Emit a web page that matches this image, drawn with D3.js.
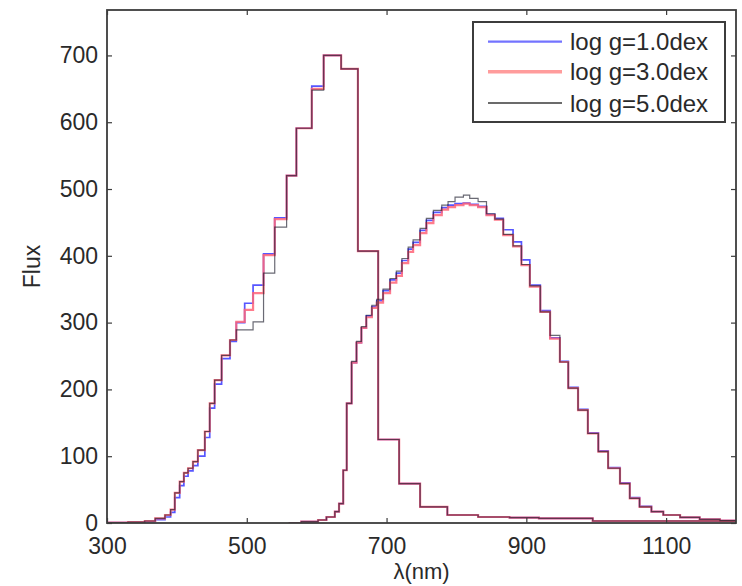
<!DOCTYPE html>
<html>
<head>
<meta charset="utf-8">
<script src="https://cdn.jsdelivr.net/npm/d3@7/dist/d3.min.js"></script>
<style>
  html, body { margin: 0; padding: 0; background: #fff; }
  svg { display: block; }
  text { font-family: "Liberation Sans", Arial, Helvetica, sans-serif; fill: #2a2a2a; }
</style>
</head>
<body>
<svg id="chart" width="742" height="586"></svg>
<script>
// ---- Data ----
const xTicks = [300, 500, 700, 900, 1100];
const yTicks = [0, 100, 200, 300, 400, 500, 600, 700];
const seriesNames = ["log g=1.0dex", "log g=3.0dex", "log g=5.0dex"];

// Filter A: bin edges (nm) and flux per bin
const edgesA = [300, 330, 354, 369, 383, 391, 397, 404, 410, 416, 423, 430, 440, 447, 454, 464, 476, 485, 497, 509, 524, 540, 557, 571, 593, 610, 635, 659, 688, 718, 748, 787, 831, 876, 918, 995, 1200];
const blueA  = [0.5, 1, 2, 5, 9, 16, 38, 56, 70, 78, 86, 100, 128, 172, 208, 246, 272, 300, 329, 356, 403, 457, 520, 591, 654, 700, 680, 407, 125, 59, 24, 12, 9, 8, 7, 3];
const redA   = [0.5, 1.5, 3, 7, 12, 20, 45, 62, 75, 82, 92, 109, 137, 179, 214, 251, 274, 301, 319, 344, 401, 455, 520, 591, 650, 700, 680, 407, 125, 59, 24, 12, 9, 8, 7, 3];
const blackA = [0.5, 1.5, 3, 7, 12, 20, 45, 62, 75, 82, 92, 109, 137, 179, 214, 251, 274, 289, 289, 301, 374, 443, 520, 591, 648, 700, 680, 407, 125, 59, 24, 12, 9, 8, 7, 3];

// Filter B: bin edges (nm) and flux per bin
const edgesB = [560, 578, 602, 614, 626, 632, 638, 643, 650, 657, 664, 671, 679, 686, 695, 705, 714, 722, 731, 738, 748, 757, 767, 779, 788, 798, 810, 819, 831, 843, 855, 867, 881, 893, 905, 920, 934, 948, 960, 974, 988, 1003, 1017, 1034, 1048, 1062, 1079, 1096, 1120, 1148, 1177, 1200];
const blueB  = [0, 2, 4.5, 9, 17, 29, 79, 179, 240, 270, 292, 310, 324, 333, 348, 364, 374, 393, 410, 420, 438, 453, 465, 472, 476, 478, 479, 477, 474, 462, 456, 439, 421, 394, 356, 318, 277, 242, 203, 170, 135, 108, 83, 60, 38, 25, 17, 12, 8.5, 5.5, 3.5];
const redB   = [0, 2, 4.5, 9, 17, 29, 79, 179, 240, 270, 292, 308, 322, 330, 344, 360, 370, 389, 406, 416, 434, 449, 461, 469, 473, 476, 478, 476, 473, 461, 454, 431, 414, 386, 354, 316, 276, 241, 202, 169, 134, 107, 82, 59, 37, 24, 17, 12, 8.5, 5.5, 3.5];
const blackB = [0, 2, 4.5, 9, 17, 29, 79, 179, 242, 272, 294, 311, 326, 335, 350, 366, 377, 396, 413, 424, 441, 456, 468, 476, 481, 488, 491, 486, 481, 463, 455, 432, 415, 387, 355, 316, 281, 241, 202, 169, 134, 107, 82, 59, 37, 24, 17, 12, 8.5, 5.5, 3.5];

// ---- Layout ----
const W = 742, H = 586;
const L = 107, R = 736, T = 10, B = 523;

const svg = d3.select("#chart");
const x = d3.scaleLinear().domain([300, 1200]).range([L, R]);
const y = d3.scaleLinear().domain([0, 768]).range([B, T]);

const styles = [
  { color: "#4d4dff", width: 1.7, opacity: 0.95, legColor: "#7373ff", legWidth: 2.2 },
  { color: "#ff6478", width: 2.2, opacity: 0.85, legColor: "#ff9c9c", legWidth: 3.6 },
  { color: "#1a1a2a", width: 1.2, opacity: 0.65, legColor: "#3a3a3a", legWidth: 1.4 }
];

function stepPoints(edges, vals) {
  const pts = vals.map((v, i) => [edges[i], v]);
  pts.push([edges[edges.length - 1], vals[vals.length - 1]]);
  return pts;
}

const line = d3.line()
  .x(d => x(d[0]))
  .y(d => y(d[1]))
  .curve(d3.curveStepAfter);

svg.append("defs").append("clipPath").attr("id", "clip")
  .append("rect").attr("x", L).attr("y", T).attr("width", R - L).attr("height", B - T);

const plot = svg.append("g").attr("clip-path", "url(#clip)");
const seriesData = [
  [blueA, blueB],
  [redA, redB],
  [blackA, blackB]
];
seriesData.forEach((pair, si) => {
  const st = styles[si];
  [[edgesA, pair[0]], [edgesB, pair[1]]].forEach(([e, v]) => {
    plot.append("path")
      .attr("d", line(stepPoints(e, v)))
      .attr("fill", "none")
      .attr("stroke", st.color)
      .attr("stroke-width", st.width)
      .attr("stroke-opacity", st.opacity)
      .attr("stroke-linejoin", "miter");
  });
});

// ---- Axes ----
const axisColor = "#3c3c3c";
const fontSize = 23;

const gB = svg.append("g").attr("transform", `translate(0,${B})`)
  .call(d3.axisBottom(x).tickValues(xTicks).tickSize(-5).tickPadding(15).tickFormat(d3.format("d")));
const gT = svg.append("g").attr("transform", `translate(0,${T})`)
  .call(d3.axisTop(x).tickValues(xTicks).tickSize(-5).tickFormat(""));
const gL = svg.append("g").attr("transform", `translate(${L},0)`)
  .call(d3.axisLeft(y).tickValues(yTicks).tickSize(-5).tickPadding(9).tickFormat(d3.format("d")));
const gR = svg.append("g").attr("transform", `translate(${R},0)`)
  .call(d3.axisRight(y).tickValues(yTicks).tickSize(-5).tickFormat(""));

[gB, gT, gL, gR].forEach(g => {
  g.select(".domain").remove();
  g.selectAll(".tick line").attr("stroke", axisColor).attr("stroke-width", 1.2);
  g.selectAll(".tick text").attr("font-size", fontSize).attr("fill", "#2a2a2a")
    .attr("font-family", '"Liberation Sans", Arial, sans-serif');
});

svg.append("rect")
  .attr("x", L).attr("y", T).attr("width", R - L).attr("height", B - T)
  .attr("fill", "none").attr("stroke", axisColor).attr("stroke-width", 1.8);

// Axis titles
svg.append("text")
  .attr("x", (L + R) / 2).attr("y", 579)
  .attr("text-anchor", "middle")
  .attr("font-size", 22)
  .text("λ(nm)");

svg.append("text")
  .attr("transform", `translate(40,${(T + B) / 2}) rotate(-90)`)
  .attr("text-anchor", "middle")
  .attr("font-size", fontSize)
  .text("Flux");

// ---- Legend ----
const lg = svg.append("g");
lg.append("rect")
  .attr("x", 473).attr("y", 22).attr("width", 252).attr("height", 100)
  .attr("fill", "#fff").attr("stroke", axisColor).attr("stroke-width", 2);
const rowY = [41.7, 71.7, 103];
seriesNames.forEach((name, i) => {
  lg.append("line")
    .attr("x1", 488).attr("x2", 562).attr("y1", rowY[i]).attr("y2", rowY[i])
    .attr("stroke", styles[i].legColor).attr("stroke-width", styles[i].legWidth);
  lg.append("text")
    .attr("x", 570).attr("y", rowY[i]).attr("dy", "0.36em")
    .attr("font-size", 24)
    .text(name);
});
</script>
</body>
</html>
